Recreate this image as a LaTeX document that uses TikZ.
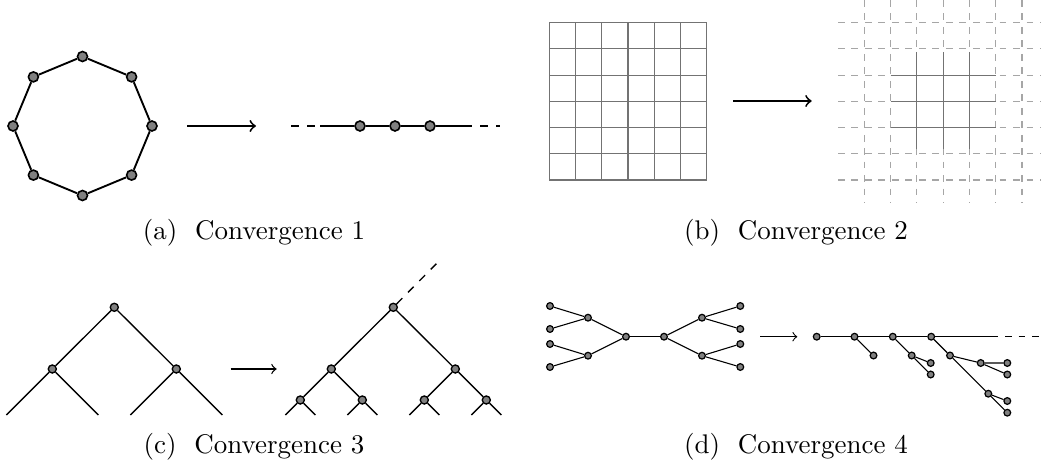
\documentclass[tikz,border=0pt]{standalone}
\usepackage{tikz}
\usetikzlibrary{arrows, positioning}

\begin{document}
\begin{tikzpicture}[x=0.371pt, y=-0.371pt, >=to,
    bigdot/.style={circle, draw=black, fill=gray, line width=0.6pt, inner sep=0pt, minimum size=3.7pt},
    middot/.style={circle, draw=black, fill=gray, line width=0.5pt, inner sep=0pt, minimum size=3pt},
    smalldot/.style={circle, draw=black, fill=gray, line width=0.45pt, inner sep=0pt, minimum size=2.5pt},
    gridline/.style={draw=black!55, line width=0.4pt},
    latline/.style={draw=black!35, line width=0.4pt, dash pattern=on 2.5pt off 2.5pt},
    caption/.style={font=\normalsize, inner sep=0pt}
]
\useasboundingbox (0,0) rectangle (1041,466);

% (a) Cycle to line
\node (o1) [bigdot] at (152,126) {};
\node (o2) [bigdot] at (131.6,76.9) {};
\node (o3) [bigdot] at (82.5,56.5) {};
\node (o4) [bigdot] at (33.4,76.9) {};
\node (o5) [bigdot] at (13,126) {};
\node (o6) [bigdot] at (33.4,175.1) {};
\node (o7) [bigdot] at (82.5,195.5) {};
\node (o8) [bigdot] at (131.6,175.1) {};
\draw [line width=0.7pt] (o1) -- (o2) -- (o3) -- (o4) -- (o5) -- (o6) -- (o7) -- (o8) -- (o1);

\coordinate (arA1) at (187.3,126);
\coordinate (arA2) at (256,126);
\draw [->, line width=0.7pt] (arA1) -- (arA2);

\coordinate (lnA0) at (291,126);
\coordinate (lnA1) at (320,126);
\coordinate (lnA2) at (464,126);
\coordinate (lnA3) at (500,126);
\node (p1) [bigdot] at (360,126) {};
\node (p2) [bigdot] at (395,126) {};
\node (p3) [bigdot] at (430,126) {};
\draw [line width=0.7pt, dash pattern=on 3pt off 3pt] (lnA0) -- (lnA1);
\draw [line width=0.7pt] (lnA1) -- (p1) -- (p2) -- (p3) -- (lnA2);
\draw [line width=0.7pt, dash pattern=on 3pt off 3pt] (lnA2) -- (lnA3);

\node (capA) [caption] at (254,233) {(a)~ Convergence 1};

% (b) Finite grid to infinite lattice
\foreach \i in {0,...,6} {
    \draw [gridline] ({549.3+26.23*\i},22.7) -- ({549.3+26.23*\i},180);
    \draw [gridline] (549.3,{22.7+26.22*\i}) -- (706.7,{22.7+26.22*\i});
}

\coordinate (arB1) at (733.3,101);
\coordinate (arB2) at (811.7,101);
\draw [->, line width=0.7pt] (arB1) -- (arB2);

\foreach \i in {0,...,6} {
    \draw [latline] ({864.3+26.28*\i},0) -- ({864.3+26.28*\i},203);
    \draw [latline] (838,{22.7+26.22*\i}) -- (1041,{22.7+26.22*\i});
}
\foreach \i in {2,3,4} {
    \draw [gridline] ({864.3+26.28*\i},52) -- ({864.3+26.28*\i},149);
    \draw [gridline] (890.6,{22.7+26.22*\i}) -- (995.7,{22.7+26.22*\i});
}

\node (capB) [caption] at (796,233) {(b)~ Convergence 2};

% (c) Binary tree to infinite tree
\node (tr) [middot] at (114.3,307.3) {};
\node (tc1) [middot] at (52.3,369) {};
\node (tc2) [middot] at (176.3,369) {};
\coordinate (tl1) at (6.3,415);
\coordinate (tl2) at (98.3,415);
\coordinate (tl3) at (130.3,415);
\coordinate (tl4) at (222.3,415);
\draw [line width=0.5pt] (tl1) -- (tc1) -- (tr) -- (tc2) -- (tl4);
\draw [line width=0.5pt] (tc1) -- (tl2);
\draw [line width=0.5pt] (tc2) -- (tl3);

\coordinate (arC1) at (230.7,369);
\coordinate (arC2) at (276.7,369);
\draw [->, line width=0.5pt] (arC1) -- (arC2);

\node (Tr) [middot] at (393.3,307.3) {};
\coordinate (Tup) at (440,260);
\node (Tc1) [middot] at (331.3,369) {};
\node (Tc2) [middot] at (455.3,369) {};
\node (Tg1) [middot] at (300.3,400) {};
\node (Tg2) [middot] at (362.3,400) {};
\node (Tg3) [middot] at (424.3,400) {};
\node (Tg4) [middot] at (486.3,400) {};
\coordinate (Tl1) at (285.3,415);
\coordinate (Tl2) at (315.3,415);
\coordinate (Tl3) at (347.3,415);
\coordinate (Tl4) at (377.3,415);
\coordinate (Tl5) at (409.3,415);
\coordinate (Tl6) at (439.3,415);
\coordinate (Tl7) at (471.3,415);
\coordinate (Tl8) at (501.3,415);
\draw [line width=0.5pt, dash pattern=on 3pt off 3pt] (Tr) -- (Tup);
\draw [line width=0.5pt] (Tc1) -- (Tr) -- (Tc2);
\draw [line width=0.5pt] (Tg1) -- (Tc1) -- (Tg2);
\draw [line width=0.5pt] (Tg3) -- (Tc2) -- (Tg4);
\draw [line width=0.5pt] (Tl1) -- (Tg1) -- (Tl2);
\draw [line width=0.5pt] (Tl3) -- (Tg2) -- (Tl4);
\draw [line width=0.5pt] (Tl5) -- (Tg3) -- (Tl6);
\draw [line width=0.5pt] (Tl7) -- (Tg4) -- (Tl8);

\node (capC) [caption] at (254,447) {(c)~ Convergence 3};

% (d) Finite tree to infinite ray with branches
\node (dl1) [smalldot] at (550,306) {};
\node (dl2) [smalldot] at (550,329) {};
\node (dl3) [smalldot] at (550,344) {};
\node (dl4) [smalldot] at (550,367) {};
\node (dm1) [smalldot] at (588,317.7) {};
\node (dm2) [smalldot] at (588,355.7) {};
\node (dc1) [smalldot] at (626,336.7) {};
\node (dc2) [smalldot] at (664,336.7) {};
\node (dm3) [smalldot] at (702,317.7) {};
\node (dm4) [smalldot] at (702,355.7) {};
\node (dr1) [smalldot] at (740.3,306) {};
\node (dr2) [smalldot] at (740.3,329) {};
\node (dr3) [smalldot] at (740.3,344) {};
\node (dr4) [smalldot] at (740.3,367) {};
\draw [line width=0.4pt] (dl1) -- (dm1) -- (dl2);
\draw [line width=0.4pt] (dl3) -- (dm2) -- (dl4);
\draw [line width=0.4pt] (dm1) -- (dc1) -- (dm2);
\draw [line width=0.4pt] (dc1) -- (dc2);
\draw [line width=0.4pt] (dm3) -- (dc2) -- (dm4);
\draw [line width=0.4pt] (dr1) -- (dm3) -- (dr2);
\draw [line width=0.4pt] (dr3) -- (dm4) -- (dr4);

\coordinate (arD1) at (760,336.7);
\coordinate (arD2) at (797.3,336.7);
\draw [->, line width=0.4pt] (arD1) -- (arD2);

\node (n1) [smalldot] at (816.7,336.7) {};
\node (n2) [smalldot] at (854.5,336.7) {};
\node (n3) [smalldot] at (892.8,336.7) {};
\node (n4) [smalldot] at (931.2,336.7) {};
\coordinate (nEnd) at (991.7,336.7);
\coordinate (nFar) at (1041,336.7);
\node (b1) [smalldot] at (873.5,355.5) {};
\node (b2) [smalldot] at (911.7,355.5) {};
\node (b21) [smalldot] at (930.7,363) {};
\node (b22) [smalldot] at (930.7,374.5) {};
\node (b3) [smalldot] at (950,355.5) {};
\node (b4) [smalldot] at (980.7,363) {};
\node (b41) [smalldot] at (1007.3,363) {};
\node (b42) [smalldot] at (1007.3,374.5) {};
\node (b5) [smalldot] at (988.3,393.7) {};
\node (b51) [smalldot] at (1007.3,401) {};
\node (b52) [smalldot] at (1007.3,412.7) {};
\draw [line width=0.4pt] (n1) -- (n2) -- (n3) -- (n4) -- (nEnd);
\draw [line width=0.4pt, dash pattern=on 2.5pt off 2.5pt] (nEnd) -- (nFar);
\draw [line width=0.4pt] (n2) -- (b1);
\draw [line width=0.4pt] (n3) -- (b2) -- (b21);
\draw [line width=0.4pt] (b2) -- (b22);
\draw [line width=0.4pt] (n4) -- (b3) -- (b4) -- (b41);
\draw [line width=0.4pt] (b4) -- (b42);
\draw [line width=0.4pt] (b3) -- (b5) -- (b51);
\draw [line width=0.4pt] (b5) -- (b52);

\node (capD) [caption] at (796,447) {(d)~ Convergence 4};

\end{tikzpicture}
\end{document}
